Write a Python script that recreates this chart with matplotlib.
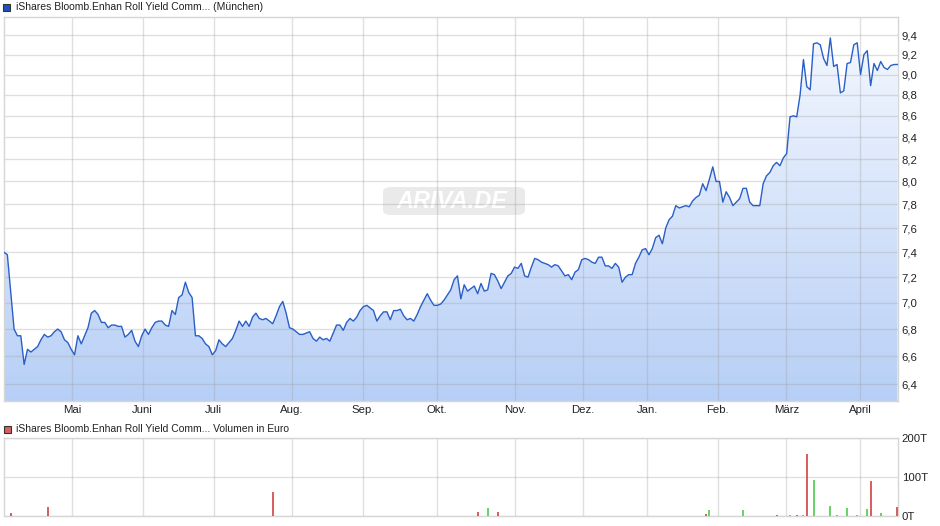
import numpy as np
import matplotlib
matplotlib.use('Agg')
import matplotlib.pyplot as plt
from matplotlib.patches import FancyBboxPatch, Rectangle
from matplotlib.ticker import FixedLocator, NullLocator
from matplotlib.colors import to_rgb

plt.rcParams['font.family'] = ['Liberation Sans', 'DejaVu Sans']

# ---------------- data ----------------
prices = [
    7.40, 7.38, 7.08, 6.80, 6.75, 6.75, 6.54, 6.65, 6.63, 6.65,
    6.67, 6.72, 6.76, 6.74, 6.75, 6.78, 6.80, 6.78, 6.72, 6.70,
    6.65, 6.61, 6.75, 6.69, 6.75, 6.81, 6.92, 6.94, 6.91, 6.85,
    6.85, 6.81, 6.83, 6.83, 6.82, 6.82, 6.74, 6.76, 6.79, 6.71,
    6.67, 6.75, 6.80, 6.76, 6.81, 6.85, 6.86, 6.86, 6.83, 6.82,
    6.94, 6.91, 7.04,
    7.06, 7.16, 7.08, 7.04, 6.75, 6.75, 6.73, 6.69, 6.67, 6.61,
    6.64, 6.72, 6.69, 6.67, 6.70, 6.73, 6.79, 6.86, 6.82, 6.86,
    6.82, 6.89, 6.92, 6.88, 6.87, 6.88, 6.86, 6.84, 6.90, 6.97,
    7.01, 6.92, 6.81, 6.80, 6.78, 6.76, 6.76, 6.77, 6.78, 6.73,
    6.71, 6.74, 6.72, 6.73, 6.71, 6.77, 6.83, 6.83, 6.79, 6.85,
    6.88, 6.86, 6.89, 6.94, 6.97,
    6.98, 6.96, 6.94, 6.86, 6.90, 6.93, 6.93, 6.87, 6.94, 6.94,
    6.95, 6.90, 6.87, 6.88, 6.86, 6.91, 6.97, 7.02, 7.07, 7.02,
    6.98, 6.98, 6.99, 7.02, 7.06, 7.10, 7.18, 7.21, 7.03, 7.14,
    7.09, 7.11, 7.13, 7.07, 7.15, 7.09, 7.10, 7.23, 7.22, 7.17,
    7.11, 7.16, 7.21, 7.23, 7.28, 7.27, 7.31, 7.21, 7.20, 7.28,
    7.35, 7.34, 7.32, 7.31,
    7.30, 7.28, 7.30, 7.29, 7.25, 7.21, 7.22, 7.18, 7.24, 7.26,
    7.34, 7.35, 7.34, 7.32, 7.31, 7.36, 7.36, 7.29, 7.29, 7.27,
    7.31, 7.28, 7.16, 7.20, 7.22, 7.22, 7.31, 7.36, 7.42, 7.43,
    7.38, 7.43, 7.52, 7.54, 7.47, 7.60, 7.67, 7.70, 7.79, 7.77,
    7.78, 7.79, 7.78, 7.83, 7.86, 7.88, 7.98, 7.92, 8.02, 8.13,
    8.00, 8.00, 7.82,
    7.91, 7.86, 7.79, 7.82, 7.85, 7.94, 7.94, 7.82, 7.79, 7.79,
    7.79, 7.98, 8.05, 8.08, 8.14, 8.17, 8.14, 8.21, 8.25, 8.59,
    8.60, 8.59, 8.80, 9.15, 8.88, 8.85, 9.31, 9.32, 9.30, 9.16,
    9.09, 9.37, 9.08, 9.10, 8.82, 8.84, 9.11, 9.12, 9.30, 9.32,
    9.00, 9.20, 9.24, 8.89, 9.11, 9.04, 9.13, 9.07, 9.05, 9.09,
    9.10, 9.10,
]

month_labels = ['Mai', 'Juni', 'Juli', 'Aug.', 'Sep.', 'Okt.', 'Nov.', 'Dez.',
                'Jan.', 'Feb.', 'März', 'April']
month_start_idx = [20.2, 41.3, 62.4, 85.7, 106.9, 128.9, 152.1, 172.4,
                   191.5, 212.5, 232.9, 254.9]

price_ticks = [6.4, 6.6, 6.8, 7.0, 7.2, 7.4, 7.6, 7.8, 8.0, 8.2, 8.4, 8.6,
               8.8, 9.0, 9.2, 9.4, 9.6]
price_tick_labels = ['6,4', '6,6', '6,8', '7,0', '7,2', '7,4', '7,6', '7,8',
                     '8,0', '8,2', '8,4', '8,6', '8,8', '9,0', '9,2', '9,4', '']

vol_idx = [2, 4, 13, 80, 141, 142, 144, 147, 182, 188, 209, 210, 220, 230, 234,
           236, 237, 238, 239, 241, 246, 248, 250, 251, 253, 254, 257, 258, 259,
           261, 266]
vol_thousand = [8, 1, 23, 61, 10, 2, 20, 10, 1, 1, 6, 16, 16, 3, 3, 3, 2, 3, 157,
                91, 26, 3, 2, 20, 2, 3, 18, 90, 2, 8, 23]
vol_up = [0, 0, 0, 0, 0, 1, 1, 0, 0, 1, 0, 1, 1, 0, 1, 0, 1, 1, 0, 1, 1, 1, 1,
          1, 1, 1, 1, 0, 1, 1, 0]
vol_ticks = [0, 100, 200]
vol_tick_labels = ['0T', '100T', '200T']

title_main = 'iShares Bloomb.Enhan Roll Yield Comm... (München)'
title_vol = 'iShares Bloomb.Enhan Roll Yield Comm... Volumen in Euro'

# ---------------- layout ----------------
W, H = 940, 526
fig = plt.figure(figsize=(W / 100, H / 100), dpi=100)
fig.patch.set_facecolor('white')


def fx(px):
    return px / W


def fy(py):
    return 1 - py / H


L, R = 4, 897.5
ax = fig.add_axes([fx(L), fy(401), (R - L) / W, (401 - 16.5) / H])
axv = fig.add_axes([fx(L), fy(516.3), (R - L) / W, (516.3 - 437.5) / H])

grid_kw = dict(color='#a0a0a0', alpha=0.33, linewidth=1.0)
spine_col = '#d6d6d6'
text_col = '#222222'
fs_tick = 8.2
fs_leg = 7.5

# ---------------- main price chart ----------------
x = np.arange(len(prices))
ax.set_yscale('log')
ax.set_xlim(0, len(prices) - 1)
ax.set_ylim(6.282, 9.594)
ax.set_autoscale_on(False)

top_c = np.array(to_rgb('#f6f9ff'))
bot_c = np.array(to_rgb('#b7cff6'))
t = np.linspace(0, 1, 256)[:, None]
img = (top_c * (1 - t) + bot_c * t)[:, None, :]
im = ax.imshow(img, extent=[0, 1, 0, 1], transform=ax.transAxes,
               aspect='auto', zorder=1, interpolation='bilinear')
poly = ax.fill_between(x, prices, 5.0, facecolor='none', edgecolor='none')
im.set_clip_path(poly.get_paths()[0], transform=ax.transData)

ax.plot(x, prices, color='#2a5fc8', linewidth=1.0, zorder=3)

ax.set_axisbelow('line')
ax.xaxis.set_major_locator(FixedLocator(month_start_idx))
ax.set_xticklabels(month_labels)
ax.yaxis.set_major_locator(FixedLocator(price_ticks))
ax.yaxis.set_minor_locator(NullLocator())
ax.set_yticklabels(price_tick_labels)
ax.yaxis.tick_right()
ax.grid(True, which='major', **grid_kw)
ax.tick_params(axis='both', length=0, labelsize=fs_tick, colors=text_col)
ax.tick_params(axis='x', pad=3.2)
ax.tick_params(axis='y', pad=3)
for s in ax.spines.values():
    s.set_color(spine_col)
    s.set_linewidth(1.0)

# watermark
wm = FancyBboxPatch((fx(383), fy(215)), (525 - 383) / W, (215 - 187) / H,
                    boxstyle='round,pad=0,rounding_size=0.009',
                    transform=fig.transFigure, facecolor='#eaeaea',
                    edgecolor='none', zorder=0.8, clip_on=False)
ax.add_patch(wm)
ax.text(fx(452), fy(201.5), 'ARIVA.DE', transform=fig.transFigure,
        ha='center', va='center', fontsize=17, fontweight='bold',
        style='italic', color='white', zorder=0.9)

# ---------------- volume chart ----------------
axv.set_xlim(0, len(prices) - 1)
axv.set_ylim(0, 200)
cols = ['#66d466' if u else '#d96060' for u in vol_up]
axv.bar(vol_idx, vol_thousand, width=0.6, color=cols, zorder=3)
axv.set_axisbelow('line')
axv.xaxis.set_major_locator(FixedLocator(month_start_idx))
axv.set_xticklabels([])
axv.yaxis.set_major_locator(FixedLocator(vol_ticks))
axv.set_yticklabels(vol_tick_labels)
axv.yaxis.tick_right()
axv.grid(True, **grid_kw)
axv.tick_params(axis='both', length=0, labelsize=fs_tick, colors=text_col)
axv.tick_params(axis='y', pad=3)
for s in axv.spines.values():
    s.set_color(spine_col)
    s.set_linewidth(1.0)

# ---------------- legends ----------------
fig.patches.append(Rectangle((fx(3), fy(10.5)), 7 / W, 7 / H,
                             transform=fig.transFigure, facecolor='#1f50c0',
                             edgecolor='#333333', linewidth=0.8))
fig.text(fx(15.5), fy(6.5), title_main, ha='left', va='center',
         fontsize=fs_leg, color=text_col)
fig.patches.append(Rectangle((fx(4), fy(432.5)), 7 / W, 7 / H,
                             transform=fig.transFigure, facecolor='#d96060',
                             edgecolor='#333333', linewidth=0.8))
fig.text(fx(15.5), fy(428.5), title_vol, ha='left', va='center',
         fontsize=fs_leg, color=text_col)

fig.savefig('out.png', dpi=100)
